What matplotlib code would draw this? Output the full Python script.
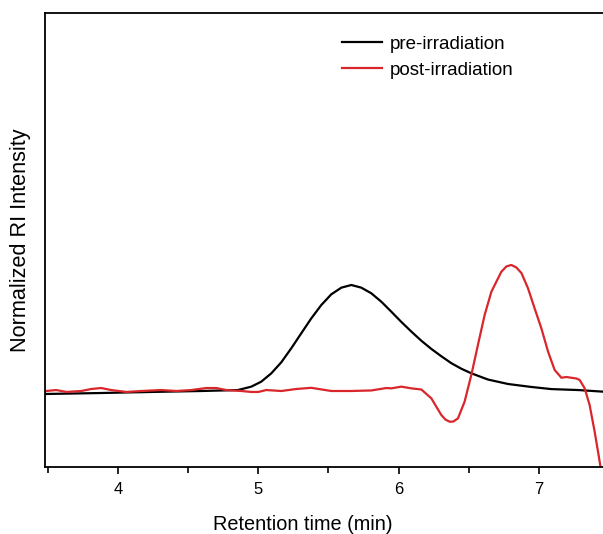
import matplotlib
matplotlib.use("Agg")
import matplotlib.pyplot as plt
from matplotlib.ticker import MultipleLocator, NullLocator

plt.rcParams['font.family'] = ['Liberation Sans', 'DejaVu Sans']

# Retention time (min) and normalized RI intensity (baseline ~0, pre-irradiation peak = 1)
pre_time = [3.489, 3.881, 4.237, 4.594, 4.855, 4.950, 5.021, 5.093, 5.164, 5.235,
            5.306, 5.378, 5.449, 5.520, 5.592, 5.663, 5.734, 5.805, 5.877, 5.948,
            6.019, 6.091, 6.162, 6.233, 6.304, 6.376, 6.447, 6.518, 6.637, 6.780,
            6.946, 7.088, 7.279, 7.466]
pre_int = [-0.028, -0.019, -0.009, 0.000, 0.009, 0.041, 0.088, 0.167, 0.271, 0.403,
           0.544, 0.686, 0.811, 0.912, 0.975, 1.000, 0.975, 0.922, 0.842, 0.748,
           0.652, 0.560, 0.474, 0.397, 0.328, 0.262, 0.210, 0.167, 0.108, 0.066,
           0.038, 0.018, 0.009, -0.007]

post_time = [3.489, 3.560, 3.632, 3.738, 3.810, 3.881, 3.952, 4.059, 4.166, 4.309,
             4.416, 4.522, 4.629, 4.701, 4.772, 4.879, 4.950, 5.000, 5.057, 5.164,
             5.271, 5.378, 5.520, 5.663, 5.805, 5.912, 5.948, 6.019, 6.091, 6.162,
             6.233, 6.304, 6.333, 6.364, 6.390, 6.423, 6.470, 6.518, 6.565, 6.613,
             6.661, 6.732, 6.768, 6.803, 6.839, 6.875, 6.922, 6.969, 7.017, 7.065,
             7.112, 7.160, 7.196, 7.231, 7.267, 7.290, 7.326, 7.361, 7.397, 7.425,
             7.440]
post_int = [0.000, 0.009, -0.009, 0.000, 0.019, 0.028, 0.009, -0.009, 0.000, 0.009,
            0.000, 0.009, 0.028, 0.028, 0.009, 0.000, -0.009, -0.009, 0.009, 0.000,
            0.019, 0.030, 0.000, 0.000, 0.005, 0.028, 0.025, 0.041, 0.025, 0.014,
            -0.069, -0.226, -0.269, -0.290, -0.288, -0.258, -0.101, 0.151, 0.434, 0.717,
            0.937, 1.125, 1.175, 1.189, 1.165, 1.113, 0.969, 0.780, 0.592, 0.371,
            0.198, 0.125, 0.132, 0.125, 0.118, 0.104, 0.025, -0.132, -0.384, -0.604,
            -0.729]

x_major = [4, 5, 6, 7]
x_labels = ['4', '5', '6', '7']

fig = plt.figure(figsize=(6.03, 5.34), dpi=100)
ax = fig.add_axes([45/603, 1 - 467/534, 1 - 45/603 + 0.002, (467 - 13)/534])

ax.plot(pre_time, pre_int, color='black', lw=1.6, label='pre-irradiation')
ax.plot(post_time, post_int, color='#d9262b', lw=1.6, label='post-irradiation')

ax.set_xlim(3.48, 7.465)
ax.set_ylim(-0.717, 3.566)
ax.set_xticks(x_major)
ax.set_xticklabels(x_labels)
ax.xaxis.set_minor_locator(MultipleLocator(0.5))
ax.yaxis.set_major_locator(NullLocator())
ax.tick_params(axis='x', which='major', direction='out', length=5, width=1.2, labelsize=12, pad=6)
ax.tick_params(axis='x', which='minor', direction='out', length=4, width=1.2)
for s in ['left', 'bottom', 'top']:
    ax.spines[s].set_linewidth(1.3)
ax.spines['right'].set_visible(False)

ax.set_xlabel('Retention time (min)', fontsize=14.3, labelpad=13)
ax.xaxis.label.set_x((302 - 45) / 558)
ax.set_ylabel('Normalized RI Intensity', fontsize=15.6, labelpad=10)

leg = ax.legend(loc='upper left', bbox_to_anchor=(325/603, 1 - 19/534), bbox_transform=fig.transFigure,
                frameon=False, fontsize=13.5, handlelength=2.13, handletextpad=0.43, labelspacing=0.47)

fig.savefig('out.png', dpi=100)
